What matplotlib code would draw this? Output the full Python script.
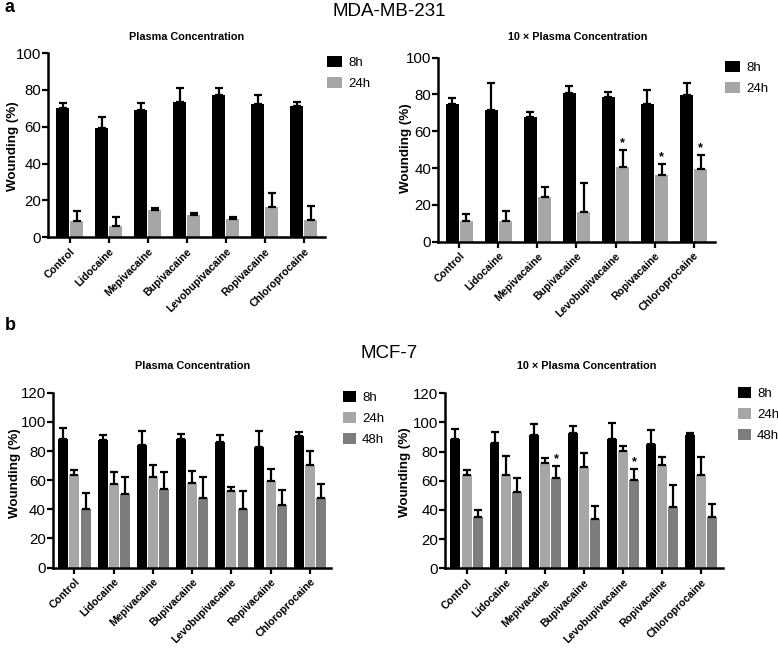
import numpy as np
import matplotlib.pyplot as plt
from matplotlib.patches import Patch

plt.rcParams['font.family'] = ['Liberation Sans', 'DejaVu Sans']

drugs = ["Control", "Lidocaine", "Mepivacaine", "Bupivacaine",
         "Levobupivacaine", "Ropivacaine", "Chloroprocaine"]

# MDA-MB-231, plasma concentration
mda_pc_8h = [70.1, 59.2, 69.2, 73.7, 77.4, 72.5, 71.4]
mda_pc_8h_err = [2.7, 6.0, 3.6, 7.3, 3.9, 4.7, 2.3]
mda_pc_24h = [8.9, 6.2, 14.5, 12.1, 9.8, 16.3, 9.4]
mda_pc_24h_err = [5.4, 5.0, 1.1, 0.9, 1.4, 7.6, 7.6]

# MDA-MB-231, 10x plasma concentration
mda_10x_8h = [74.8, 71.6, 67.6, 80.6, 78.8, 74.6, 79.7]
mda_10x_8h_err = [3.1, 14.4, 3.1, 4.0, 2.7, 7.8, 6.3]
mda_10x_24h = [11.2, 11.4, 24.1, 15.9, 40.4, 36.2, 39.3]
mda_10x_24h_err = [3.8, 5.1, 5.8, 16.1, 9.4, 6.0, 7.6]
mda_10x_stars = [None, None, None, None, "24h", "24h", "24h"]

# MCF-7, plasma concentration
mcf_pc_8h = [88.2, 87.5, 84.2, 88.2, 86.4, 82.5, 90.2]
mcf_pc_8h_err = [7.4, 3.3, 9.8, 3.7, 4.4, 11.5, 2.8]
mcf_pc_24h = [63.5, 57.5, 61.9, 58.0, 52.5, 59.1, 70.7]
mcf_pc_24h_err = [3.2, 8.1, 8.6, 8.0, 2.9, 8.3, 9.2]
mcf_pc_48h = [40.5, 50.3, 54.0, 48.1, 40.5, 42.7, 48.1]
mcf_pc_48h_err = [10.9, 11.6, 11.6, 14.3, 12.0, 10.3, 9.2]

# MCF-7, 10x plasma concentration
mcf_10x_8h = [88.6, 85.8, 91.3, 93.0, 88.6, 85.2, 91.3]
mcf_10x_8h_err = [7.0, 7.6, 7.6, 4.8, 11.0, 9.8, 1.7]
mcf_10x_24h = [64.0, 64.0, 72.0, 69.4, 80.3, 71.0, 64.0]
mcf_10x_24h_err = [3.2, 13.1, 3.5, 9.4, 3.3, 5.6, 12.6]
mcf_10x_48h = [35.2, 52.4, 61.8, 34.1, 60.3, 42.1, 34.9]
mcf_10x_48h_err = [4.8, 9.4, 8.1, 8.7, 8.0, 15.3, 9.4]
mcf_10x_stars = [None, None, "48h", None, "48h", None, None]

colors = {"8h": "#000000", "24h": "#a6a6a6", "48h": "#7d7d7d"}

W, H = 778, 648


def fx(px):
    return px / W


def fy(py):
    return 1 - py / H


def panel(ax, title, title_xy, ylabel_xy, series, ymax, legend_xy, stars=None):
    n = len(series)
    x = np.arange(len(drugs))
    w = 0.33 if n == 2 else 0.255
    tops = {}
    for i, (name, vals, errs) in enumerate(series):
        pos = x + (i - (n - 1) / 2) * (w + 0.03)
        ax.bar(pos, vals, w, color=colors[name], edgecolor="none", zorder=2)
        ax.errorbar(pos, vals, yerr=[np.zeros(len(errs)), errs], fmt="none",
                    ecolor="black", elinewidth=1.6, capsize=3.2, capthick=1.6, zorder=3)
        tops[name] = (pos, np.array(vals) + np.array(errs))
    if stars:
        for j, s in enumerate(stars):
            if s:
                pos, top = tops[s]
                ax.text(pos[j], top[j] + 0.5, "*", ha="center", va="bottom",
                        fontsize=9, fontweight="bold")
    ax.set_xlim(-0.55, len(drugs) - 0.45)
    ax.set_ylim(0, ymax)
    ax.set_yticks(np.arange(0, ymax + 1, 20))
    ax.set_xticks(x)
    ax.set_xticklabels(drugs, rotation=45, ha="right", rotation_mode="anchor",
                       fontsize=7.7, fontweight="bold")
    ax.tick_params(axis="y", labelsize=10.8, width=1.6, length=4, pad=1)
    ax.tick_params(axis="x", width=1.6, length=4, pad=2.5)
    for s in ["top", "right"]:
        ax.spines[s].set_visible(False)
    for s in ["left", "bottom"]:
        ax.spines[s].set_linewidth(1.8)
    fig.text(fx(ylabel_xy[0]), fy(ylabel_xy[1]), "Wounding (%)", rotation=90,
             ha="center", va="center", fontsize=9.6, fontweight="bold")
    fig.text(fx(title_xy[0]), fy(title_xy[1]), title, ha="center", va="center",
             fontsize=7.8, fontweight="bold")
    handles = [Patch(facecolor=colors[name], edgecolor="none", label=name)
               for name, _, _ in series]
    ax.legend(handles=handles, loc="upper left",
              bbox_to_anchor=(fx(legend_xy[0]), fy(legend_xy[1])),
              bbox_transform=fig.transFigure, borderaxespad=0, borderpad=0,
              frameon=False, fontsize=9.5, handlelength=1.1 if n == 2 else 0.95,
              handleheight=0.9, handletextpad=0.5, labelspacing=0.6)


fig = plt.figure(figsize=(7.78, 6.48), dpi=100)

ax1 = fig.add_axes([0.062, 0.634, 0.356, 0.284])
panel(ax1, "Plasma Concentration", (187, 37), (13, 146),
      [("8h", mda_pc_8h, mda_pc_8h_err), ("24h", mda_pc_24h, mda_pc_24h_err)], 100,
      (327, 56))

ax2 = fig.add_axes([0.563, 0.627, 0.356, 0.284])
panel(ax2, "10 \u00d7 Plasma Concentration", (578, 37), (406, 148),
      [("8h", mda_10x_8h, mda_10x_8h_err), ("24h", mda_10x_24h, mda_10x_24h_err)], 100,
      (725, 61), stars=mda_10x_stars)

ax3 = fig.add_axes([0.068, 0.124, 0.358, 0.270])
panel(ax3, "Plasma Concentration", (193, 366), (15, 473),
      [("8h", mcf_pc_8h, mcf_pc_8h_err), ("24h", mcf_pc_24h, mcf_pc_24h_err),
       ("48h", mcf_pc_48h, mcf_pc_48h_err)], 120, (343, 391))

ax4 = fig.add_axes([0.572, 0.123, 0.357, 0.270])
panel(ax4, "10 \u00d7 Plasma Concentration", (587, 366), (405, 472),
      [("8h", mcf_10x_8h, mcf_10x_8h_err), ("24h", mcf_10x_24h, mcf_10x_24h_err),
       ("48h", mcf_10x_48h, mcf_10x_48h_err)], 120, (738, 387), stars=mcf_10x_stars)

fig.text(0.5, 0.982, "MDA-MB-231", ha="center", va="center", fontsize=13.5)
fig.text(0.5, 0.455, "MCF-7", ha="center", va="center", fontsize=13.5)
fig.text(0.006, 0.988, "a", ha="left", va="center", fontsize=13, fontweight="bold")
fig.text(0.006, 0.498, "b", ha="left", va="center", fontsize=13, fontweight="bold")

fig.savefig("out.png", dpi=100)
